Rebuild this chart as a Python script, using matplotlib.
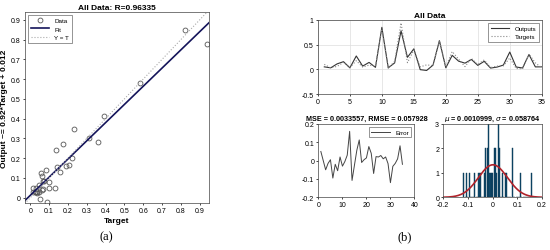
import numpy as np
import matplotlib
matplotlib.use('Agg')
import matplotlib.pyplot as plt

plt.rcParams['font.family'] = ['Liberation Sans', 'DejaVu Sans']

# values, one per sample (t = 1..35)
targets = [0.10, 0.03, 0.06, 0.14, 0.035, 0.175, 0.045, 0.085, 0.06, 0.82,
           0.025, 0.16, 0.94, 0.135, 0.39, 0.05, 0.09, 0.075, 0.585, 0.045,
           0.36, 0.205, 0.055, 0.222, 0.10, 0.19, 0.035, 0.065, 0.07, 0.23,
           0.016, 0.012, 0.31, 0.13, 0.03]
outputs = [0.05, 0.03, 0.11, 0.155, 0.03, 0.27, 0.065, 0.14, 0.04, 0.85,
           0.03, 0.13, 0.78, 0.243, 0.415, -0.007, -0.023, 0.085, 0.58, 0.03,
           0.283, 0.165, 0.125, 0.20, 0.08, 0.162, 0.025, 0.045, 0.086, 0.35,
           0.047, 0.027, 0.30, 0.049, 0.05]
fit_slope = 0.92
fit_icpt = 0.012
r_value = 0.96335
mse_txt = 'MSE = 0.0033557, RMSE = 0.057928'
mu_txt = r'$\mu$ = 0.0010999, $\sigma$ = 0.058764'
mu = 0.0010999
sigma = 0.058764

t = np.arange(1, len(targets) + 1)
T = np.array(targets)
O = np.array(outputs)
err = T - O

fig = plt.figure(figsize=(5.5, 2.51), dpi=100)
fs = 5


def frame(a):
    for s in a.spines.values():
        s.set_linewidth(0.5)
        s.set_color('#444444')
    a.tick_params(labelsize=fs, length=1.5, width=0.5, pad=1.5)


# ---- (a) regression plot
ax = fig.add_axes([0.0455, 0.187, 0.3345, 0.761])
ax.plot(T, O, 'o', mfc='none', mec='#555555', ms=3.5, mew=0.6, label='Data')
xx = np.array([-0.03, 0.95])
ax.plot(xx, fit_slope * xx + fit_icpt, color='#14145a', lw=1.2, label='Fit')
ax.plot(xx, xx, ':', color='#aaaaaa', lw=0.8, label='Y = T')
ax.set_xlim(-0.028, 0.95)
ax.set_ylim(-0.027, 0.94)
ticks = np.arange(0, 0.91, 0.1)
ax.set_xticks(ticks)
ax.set_yticks(ticks)
ax.set_xticklabels(['0'] + ['%.1f' % v for v in ticks[1:]])
ax.set_yticklabels(['0'] + ['%.1f' % v for v in ticks[1:]])
frame(ax)
ax.set_title('All Data: R=%.5f' % r_value, fontsize=6, fontweight='bold', pad=2)
ax.set_xlabel('Target', fontsize=6, fontweight='bold', labelpad=2)
ax.set_ylabel('Output ~= %.2g*Target + %.2g' % (fit_slope, fit_icpt),
              fontsize=6, fontweight='bold', labelpad=2)
ax.legend(loc='upper left', fontsize=4.5, frameon=True, fancybox=False,
          edgecolor='#444444', handlelength=3).get_frame().set_linewidth(0.5)

# ---- (b) top: time series
ax1 = fig.add_axes([0.578, 0.6215, 0.407, 0.295])
ax1.plot(t, O, '-', color='#333333', lw=0.8, label='Outputs')
ax1.plot(t, T, ':', color='#888888', lw=0.8, label='Targets')
ax1.set_xlim(0, 35)
ax1.set_ylim(-0.5, 1)
ax1.set_xticks(range(0, 36, 5))
ax1.set_yticks([-0.5, 0, 0.5, 1])
ax1.set_yticklabels(['-0.5', '0', '0.5', '1'])
ax1.grid(True, color='#dddddd', lw=0.5)
frame(ax1)
ax1.set_title('All Data', fontsize=6, fontweight='bold', pad=2)
ax1.legend(loc='upper right', fontsize=4.5, fancybox=False, edgecolor='#444444',
           handlelength=3).get_frame().set_linewidth(0.5)

# ---- (b) bottom left: error
ax2 = fig.add_axes([0.579, 0.21, 0.1745, 0.292])
ax2.plot(t, err, '-', color='#444444', lw=0.7, label='Error')
ax2.set_xlim(0, 40)
ax2.set_ylim(-0.2, 0.2)
ax2.set_xticks(range(0, 41, 10))
ax2.set_yticks([-0.2, -0.1, 0, 0.1, 0.2])
ax2.set_yticklabels(['-0.2', '-0.1', '0', '0.1', '0.2'])
frame(ax2)
ax2.set_title(mse_txt, fontsize=5.2, fontweight='bold', pad=3)
ax2.legend(loc='upper right', fontsize=4.5, fancybox=False, edgecolor='#444444',
           handlelength=3).get_frame().set_linewidth(0.5)

# ---- (b) bottom right: error histogram with normal fit
ax3 = fig.add_axes([0.806, 0.21, 0.1795, 0.292])
counts, edges = np.histogram(err, bins=50)
w = edges[1] - edges[0]
ax3.bar(edges[:-1] + w / 2, counts, width=w * 0.85, color='#0f4c70',
        edgecolor='#0a3550', lw=0.3)
xs = np.linspace(-0.2, 0.2, 200)
pdf = np.exp(-0.5 * ((xs - mu) / sigma) ** 2) / (sigma * np.sqrt(2 * np.pi))
ax3.plot(xs, pdf * len(err) * w, color='#b0222a', lw=1.2)
ax3.set_xlim(-0.2, 0.2)
ax3.set_ylim(0, 3)
ax3.set_xticks([-0.2, -0.1, 0, 0.1, 0.2])
ax3.set_xticklabels(['-0.2', '-0.1', '0', '0.1', '0.2'])
ax3.set_yticks([0, 1, 2, 3])
frame(ax3)
ax3.set_title(mu_txt, fontsize=5.2, fontweight='bold', pad=3)

fig.text(106 / 550, 1 - 237 / 251, '(a)', fontsize=9, family='Liberation Serif',
         ha='center', va='center')
fig.text(405 / 550, 1 - 237 / 251, '(b)', fontsize=9, family='Liberation Serif',
         ha='center', va='center')

fig.savefig('out.png', dpi=100)
